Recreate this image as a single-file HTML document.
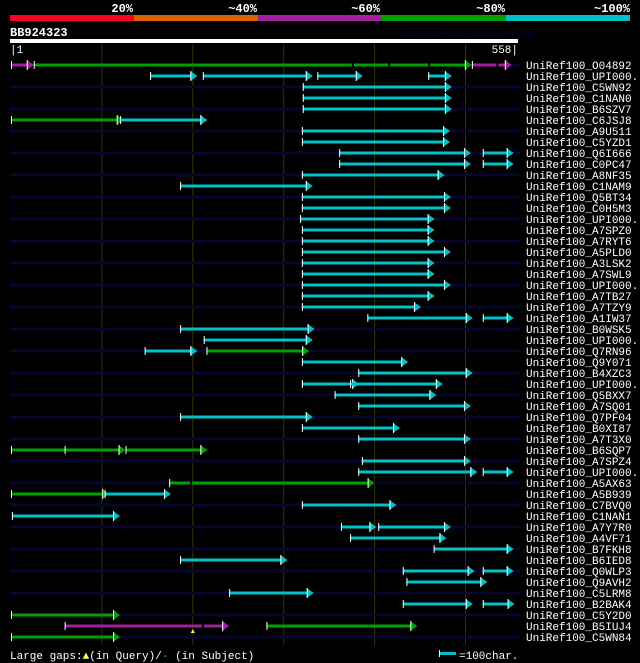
<!DOCTYPE html>
<html><head><meta charset="utf-8"><style>
html,body{margin:0;padding:0;background:#000;}
svg{display:block;font-family:"Liberation Mono",monospace;}
</style></head><body>
<svg id="chart" width="640" height="663" viewBox="0 0 640 663">
<g>
<rect x="10" y="15" width="124" height="6" fill="#ff0020"/>
<rect x="134" y="15" width="124" height="6" fill="#e06000"/>
<rect x="258" y="15" width="124" height="6" fill="#a020a0"/>
<rect x="382" y="15" width="124" height="6" fill="#00a000"/>
<rect x="506" y="15" width="124" height="6" fill="#00c0c8"/>
</g>
<g fill="#fff" font-size="12" font-weight="bold" text-anchor="end">
<text x="133" y="12">20%</text>
<text x="257" y="12">~40%</text>
<text x="380" y="12">~60%</text>
<text x="505" y="12">~80%</text>
<text x="630" y="12">~100%</text>
</g>
<text x="10" y="36" fill="#fff" font-size="12" font-weight="bold">BB924323</text>
<text x="402" y="38" fill="#00002a" font-size="11">AlignView.pm Beta rel.7</text>
<rect x="10" y="39" width="508" height="4" fill="#fff"/>
<text x="10" y="53" fill="#fff" font-size="11">|1</text>
<text x="518" y="53" fill="#fff" font-size="11" text-anchor="end">558|</text>
<g id="grid"></g>
<g id="rows"></g>
<text x="10" y="659" fill="#fff" font-size="11">Large gaps:<tspan fill="#ffff60">▲</tspan>(in Query)/<tspan fill="#00c0c8">-</tspan> (in Subject)</text>
<rect x="440" y="652" width="16" height="3" fill="#00c0c8"/>
<rect x="439" y="650" width="1" height="7" fill="#fff"/>
<text x="459" y="659" fill="#fff" font-size="11">=100char.</text>
</svg>
<script>
const gridTicks = [100, 200, 300, 400, 500];
const rowLabels = ["UniRef100_O04892","UniRef100_UPI000..","UniRef100_C5WN92","UniRef100_C1NAN0","UniRef100_B6SZV7","UniRef100_C6JSJ8","UniRef100_A9U511","UniRef100_C5YZD1","UniRef100_Q6I666","UniRef100_C0PC47","UniRef100_A8NF35","UniRef100_C1NAM9","UniRef100_Q5BT34","UniRef100_C0H5M3","UniRef100_UPI000..","UniRef100_A7SPZ0","UniRef100_A7RYT6","UniRef100_A5PLD0","UniRef100_A3LSK2","UniRef100_A7SWL9","UniRef100_UPI000..","UniRef100_A7TB27","UniRef100_A7TZY9","UniRef100_A1IW37","UniRef100_B0WSK5","UniRef100_UPI000..","UniRef100_Q7RN96","UniRef100_Q9Y071","UniRef100_B4XZC3","UniRef100_UPI000..","UniRef100_Q5BXX7","UniRef100_A7SQ01","UniRef100_Q7PF04","UniRef100_B0XI87","UniRef100_A7T3X0","UniRef100_B6SQP7","UniRef100_A7SPZ4","UniRef100_UPI000..","UniRef100_A5AX63","UniRef100_A5B939","UniRef100_C7BVQ0","UniRef100_C1NAN1","UniRef100_A7Y7R0","UniRef100_A4VF71","UniRef100_B7FKH8","UniRef100_B6IED8","UniRef100_Q0WLP3","UniRef100_Q9AVH2","UniRef100_C5LRM8","UniRef100_B2BAK4","UniRef100_C5Y2D0","UniRef100_B5IUJ4","UniRef100_C5WN84"];
const hitStarts = [[0,25,507],[153,211,337,459],[321],[321],[321],[0,120],[320],[320],[361,519],[361,519],[320],[186],[320],[320],[318],[320],[320],[320],[320],[320],[320],[320],[320],[392,519],[186],[212],[147,215],[320],[382],[320,373],[356],[382],[186],[320],[382],[0,126],[386],[382,519],[174],[0,103],[320],[1],[363,404],[373],[465],[186],[431,519],[435],[240],[431,519],[0],[59,281],[0]];
const hitEnds = [[25,507,551],[205,332,387,485],[485],[485],[485],[124,216],[483],[483],[506,553],[506,553],[477],[332],[484],[484],[466],[466],[466],[484],[466],[466],[484],[466],[451],[508,553],[334],[332],[205,328],[437],[508],[383,475],[468],[506],[332],[428],[506],[126,216],[506],[513,553],[400],[108,176],[424],[120],[402,484],[479],[553],[304],[510,553],[524],[333],[508,554],[120],[240,447],[120]];
const hitColors = [["m","g","m"],["c","c","c","c"],["c"],["c"],["c"],["g","c"],["c"],["c"],["c","c"],["c","c"],["c"],["c"],["c"],["c"],["c"],["c"],["c"],["c"],["c"],["c"],["c"],["c"],["c"],["c","c"],["c"],["c"],["c","g"],["c"],["c"],["c","c"],["c"],["c"],["c"],["c"],["c"],["g","g"],["c"],["c","c"],["g"],["g","c"],["c"],["c"],["c","c"],["c"],["c"],["c"],["c","c"],["c"],["c"],["c","c"],["g"],["m","g"],["g"]];
const gapPositions = [[0,375],[0,415],[0,459],[0,534],[38,197],[51,210]];
const queryGapMarks = [[51,200]];
const extraTicks = [[35,59]];

const COL = {c:"#00c0c8", g:"#00a000", m:"#a020a0"};
const NS = "http://www.w3.org/2000/svg";
const xS = r => 11 + r * 0.909;
const yS = i => 65 + i * 11;
function mk(tag, attrs, parent){ const e = document.createElementNS(NS, tag); for (const k in attrs) e.setAttribute(k, attrs[k]); parent.appendChild(e); return e; }
const grid = document.getElementById("grid");
gridTicks.forEach(t => {
  const l = mk("line", {x1:xS(t), x2:xS(t), y1:44, y2:645, stroke:"#33330a", "stroke-width":1}, grid);
  
  
});
const rows = document.getElementById("rows");
rowLabels.forEach((lab, i) => {
  const y = yS(i);
  const g = mk("g", {}, rows);
  
  
  if (i % 2 === 0) {
    const bg = mk("rect", {x:10, y:y-1.5, width:510, height:3, fill:"#06062e"}, g);
    
    
  }
  hitStarts[i].forEach((s, j) => {
    const e = hitEnds[i][j], col = COL[hitColors[i][j]];
    const x1 = xS(s), x2 = xS(e);
    const seg = mk("rect", {x:x1, y:y-1.5, width:Math.max(1, x2 - x1 - 5), height:3, fill:col}, g);
    
    
    const tk = mk("rect", {x:x1, y:y-4, width:1, height:8, fill:"#fff"}, g);
    
    
    const ar = mk("polygon", {points:`${x2-7},${y-5} ${x2},${y} ${x2-7},${y+5}`, fill:col}, g);
    
    
    const al = mk("rect", {x:x2-7, y:y-5, width:1, height:10, fill:"#fff"}, g);
    
    
  });
  const t = mk("text", {x:526, y:y+4, fill:"#fff", "font-size":11}, g);
  t.textContent = lab;
  
  
});
gapPositions.forEach(([i, r]) => {
  const gp = mk("rect", {x:xS(r), y:yS(i)-1.5, width:2, height:3, fill:"#000"}, rows);
  
  
});
queryGapMarks.forEach(([i, r]) => {
  const qm = mk("polygon", {points:`${xS(r)-2},${yS(i)+7} ${xS(r)},${yS(i)+3} ${xS(r)+2},${yS(i)+7}`, fill:"#ffff60"}, rows);
  
  
});
extraTicks.forEach(([i, r]) => {
  const et = mk("rect", {x:xS(r), y:yS(i)-4, width:1, height:8, fill:"#fff"}, rows);
  
  
});
</script>
</body></html>
